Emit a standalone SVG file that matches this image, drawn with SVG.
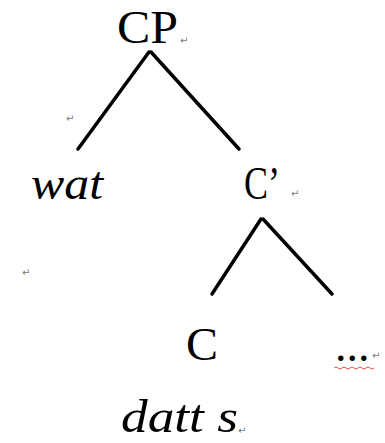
<svg xmlns="http://www.w3.org/2000/svg" width="385" height="443" viewBox="0 0 385 443">
<style>
.lbl{font-family:"Liberation Serif","DejaVu Serif",serif;font-size:46px;fill:#000}
.it{font-style:italic}
.pm{font-family:"DejaVu Sans",sans-serif;font-size:10px;fill:#777}
.edge{stroke:#000;stroke-width:3.5;stroke-linecap:round;fill:none}
</style>
<rect width="385" height="443" fill="#fff"/>
<g id="connectors">
<line class="edge" x1="149" y1="52" x2="78" y2="149"/>
<line class="edge" x1="151" y1="52" x2="239" y2="149"/>
<line class="edge" x1="261" y1="219" x2="212" y2="294"/>
<line class="edge" x1="263" y1="219" x2="332" y2="294"/>
</g>
<g id="CP"><text class="lbl" x="117" y="43" textLength="61" lengthAdjust="spacingAndGlyphs">CP</text><text class="pm" x="180" y="44">↵</text></g>
<g id="wat"><text class="lbl it" x="31" y="199" textLength="72" lengthAdjust="spacingAndGlyphs">wat</text></g>
<g id="Cbar"><text class="lbl" x="244" y="199" textLength="36" lengthAdjust="spacingAndGlyphs">C’</text><text class="pm" x="291" y="197">↵</text></g>
<g id="C"><text class="lbl" x="186" y="360" textLength="32" lengthAdjust="spacingAndGlyphs">C</text></g>
<g id="dots"><text class="lbl" x="335" y="361">...</text><text class="pm" x="372" y="359">↵</text>
<path d="M334,368 q2,-2 4,0 t4,0 t4,0 t4,0 t4,0 t4,0 t4,0 t4,0 t4,0 t4,0" stroke="#e05050" stroke-width="1" fill="none"/></g>
<g id="datts"><text class="lbl it" x="121" y="432" textLength="117" lengthAdjust="spacingAndGlyphs">datt s</text><text class="pm" x="238" y="434">↵</text></g>
<text class="pm" x="66" y="122">↵</text>
<text class="pm" x="22" y="276">↵</text>
</svg>
